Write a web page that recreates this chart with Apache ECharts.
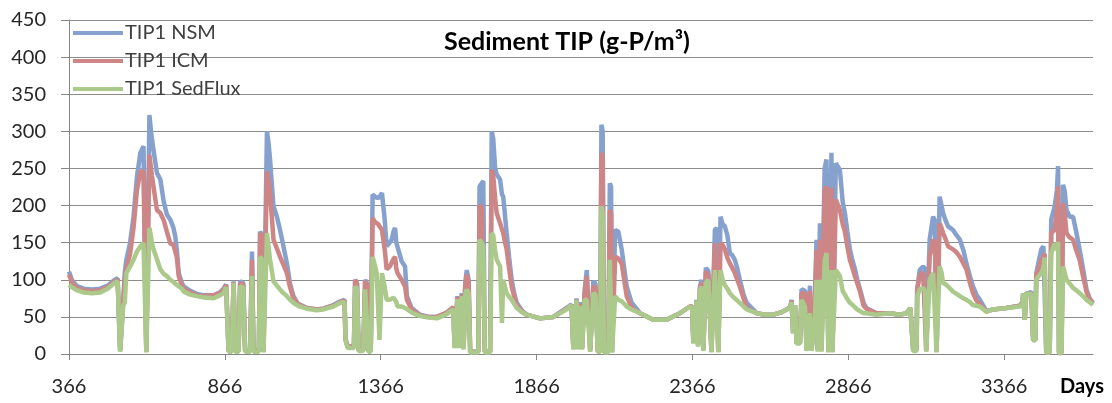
<!DOCTYPE html>
<html>
<head>
<meta charset="utf-8">
<script src="https://cdn.jsdelivr.net/npm/echarts@6/dist/echarts.min.js"></script>
<style>
html,body{margin:0;padding:0;background:#fff;}
#c{width:1112px;height:403px;}
</style>
</head>
<body>
<div id="c"></div>
<script>
// Day numbers of the sampled points
const DAYS = [
366,375,390,413,440,466,490,510,522,527,530,535,540,545,550,562,573,584,595,605,611,614,619,624,629,632,637,648,659,670,680,691,701,707,712,718,728,734,755,776,800,830,850,862,870,
878,888,894,899,910,915,925,931,947,953,958,975,979,985,990,996,1001,1006,1011,1022,1033,1043,1054,1065,1075,1086,1100,1129,1160,1182,1214,1236,1250,
1253,1260,1280,1284,1290,1295,1310,1316,1322,1327,1334,1340,1347,1353,1358,1362,1366,1370,1375,1379,1385,1395,1401,1407,1412,1416,1420,1433,1444,1450,1465,1492,1520,1546,1575,1599,
1603,1608,1612,1616,1622,1626,1632,1637,1642,1648,1653,1679,1683,1690,1695,1700,1717,1722,1727,1733,1738,1749,1755,1759,1765,1770,1778,1786,1795,1802,1820,1834,1877,1920,1962,1978,
1984,1990,1994,1999,2005,2012,2020,2027,2032,2038,2043,2048,2055,2062,2070,2074,2078,2082,2096,2101,2105,2108,2113,2118,2128,2139,2155,2171,2198,2240,2283,2326,2358,
2365,2369,2374,2379,2384,2390,2395,2401,2405,2409,2417,2422,2427,2433,2438,2444,2449,2452,2456,2463,2470,2478,2486,2494,2502,2510,2518,2530,2540,2572,2600,2625,2650,2668,2680,
2684,2689,2695,2700,2711,2716,2721,2727,2732,2737,2743,2748,2753,2758,2764,2768,2772,2775,2780,2785,2790,2796,2802,2807,2812,2815,2820,2826,2839,2848,2855,2863,2871,2880,2887,2895,2903,2915,2924,2956,2999,3031,3053,3065,
3069,3074,3085,3087,3095,3106,3112,3116,3122,3127,3138,3144,3149,3154,3159,3165,3170,3178,3186,3202,3213,3224,3235,3245,3256,3266,3277,3288,3309,3330,3373,3416,3425,3427,3432,3437,
3445,3453,3459,3466,3469,3477,3485,3492,3496,3501,3512,3517,3528,3535,3539,3542,3550,3555,3560,3566,3576,3587,3597,3608,3619,3630,3640,3651
];
const NSM = [
111,100,92,88,87,88,92,99,102,100,5,5,72,110,127,150,185,239,271,280,278,3,3,322,300,290,275,244,235,205,188,181,170,158,140,109,96,91,85,81,79,79,83,88,94,
4,4,98,4,4,98,96,4,4,138,5,5,165,160,3,3,300,285,262,199,185,167,145,122,95,78,68,62,60,61,66,71,73,
20,10,10,100,95,5,5,100,95,4,4,215,212,212,210,212,214,217,217,180,145,150,154,165,170,150,149,125,118,78,62,53,50,50,55,63,
10,10,78,10,10,82,8,95,113,100,3,3,226,230,233,3,3,300,290,250,242,235,215,212,185,163,130,100,80,69,58,53,48,50,62,67,
8,8,75,8,70,8,85,113,113,5,5,98,95,4,4,309,300,3,3,230,225,3,3,167,165,141,91,69,55,46,46,55,64,
64,15,15,73,12,90,100,6,6,116,112,112,3,3,167,170,3,3,185,175,172,160,136,133,127,115,100,80,69,55,53,53,56,60,63,
73,28,66,15,15,87,87,85,6,6,92,6,6,60,154,5,5,176,5,5,250,262,3,3,271,3,3,257,248,205,190,165,141,125,115,100,88,69,62,55,55,53,55,62,
64,6,6,87,113,118,115,5,5,154,185,180,3,3,212,200,190,180,172,167,160,154,140,122,105,91,80,73,58,60,62,65,70,82,46,82,
82,84,19,19,109,125,141,145,145,2,2,181,199,220,253,2,2,228,220,194,185,185,165,141,115,87,75,69
];
const ICM = [
107,97,89,86,85,86,90,97,100,98,5,5,70,100,115,135,170,221,246,246,245,3,3,268,250,240,226,194,190,180,165,149,147,145,130,105,92,88,83,79,78,79,82,87,93,
4,4,97,4,4,95,94,4,4,127,5,5,163,158,3,3,246,235,217,154,142,131,120,109,90,75,67,62,60,61,65,70,72,
20,10,10,100,95,5,5,98,93,4,4,183,178,176,175,172,170,167,167,140,114,118,123,128,131,115,109,100,91,73,60,52,50,50,55,63,
10,10,77,10,10,80,8,90,107,95,3,3,199,199,199,3,3,248,240,210,190,176,168,163,150,141,115,91,76,66,57,53,48,50,61,66,
8,8,73,8,68,8,80,105,105,5,5,91,90,4,4,271,265,3,3,194,190,3,3,131,129,122,78,62,55,46,46,55,64,
64,15,15,72,12,88,96,6,6,111,107,107,3,3,149,149,3,3,149,147,141,130,122,116,109,100,91,75,62,55,53,53,56,60,63,
72,28,66,15,15,82,82,82,6,6,85,6,6,60,140,5,5,154,5,5,220,226,3,3,224,3,3,208,194,175,165,145,127,115,105,95,85,65,61,55,55,53,55,62,
64,6,6,87,105,110,108,5,5,131,154,150,3,3,176,170,163,155,145,141,137,131,122,114,96,82,72,67,57,60,62,65,70,82,46,82,
80,82,19,19,107,115,128,130,135,2,2,163,167,195,226,2,2,203,190,163,157,154,140,127,105,84,73,68
];
const SEDFLUX = [
93,90,86,83,82,83,88,95,98,96,3,3,66,69,109,118,127,138,145,149,150,2,2,170,158,150,141,128,114,108,105,100,97,95,93,91,88,84,80,78,76,75,79,82,90,
3,3,96,3,3,91,90,3,3,105,3,3,131,128,2,2,163,145,127,98,92,87,82,78,73,69,65,61,59,60,64,69,70,
18,8,8,91,88,4,4,87,85,3,3,131,120,109,110,19,19,109,109,90,73,73,73,76,78,70,64,64,62,60,56,51,49,48,53,60,
8,8,74,8,8,78,6,80,87,82,2,2,154,150,145,2,2,163,160,140,127,118,42,100,90,82,77,73,67,62,56,53,48,50,60,66,
6,6,73,6,65,6,73,73,73,3,3,82,80,3,3,199,190,2,2,127,125,2,2,78,73,71,64,60,55,46,46,55,64,
62,14,14,72,10,85,91,4,4,96,100,100,2,2,113,113,2,2,113,100,93,88,82,78,75,72,69,64,60,55,53,53,56,60,62,
70,28,66,14,14,73,73,64,4,4,55,4,4,40,100,3,3,100,3,3,125,136,2,2,113,2,2,113,105,85,80,74,69,66,63,60,58,55,55,53,55,53,55,62,
64,4,4,78,87,89,85,3,3,100,109,110,2,2,118,110,96,94,91,84,81,78,75,73,70,66,65,64,57,60,62,64,68,82,46,82,
80,82,19,19,100,105,109,115,130,2,2,136,149,140,151,1,1,118,110,100,95,89,86,82,78,73,70,66
];
const X_TICKS = [366, 866, 1366, 1866, 2366, 2866, 3366];
const SERIES_NAMES = ['TIP1 NSM', 'TIP1 ICM', 'TIP1 SedFlux'];
const TITLE = 'Sediment TIP (g-P/m³)';

const FONT = 'Lato, "Open Sans", sans-serif';
const colors = ['#86a1cd', '#cd8585', '#abc98a'];
const vals = [NSM, ICM, SEDFLUX];

const chart = echarts.init(document.getElementById('c'), null, {renderer: 'canvas'});
chart.setOption({
  animation: false,
  backgroundColor: '#fff',
  textStyle: {fontFamily: FONT},
  title: {
    text: TITLE, left: 567, top: 29, textAlign: 'center', padding: 0,
    textStyle: {fontFamily: FONT, fontSize: 25, fontWeight: 'bold', color: '#000'}
  },
  legend: {
    orient: 'vertical', left: 73, top: 23, padding: 0,
    itemWidth: 50, itemHeight: 4, itemGap: 8, icon: 'rect',
    data: SERIES_NAMES,
    textStyle: {fontFamily: FONT, fontSize: 20, lineHeight: 20, color: '#404040', padding: [0,0,0,-3]}
  },
  grid: {left: 69, right: 19, top: 20, bottom: 49, containLabel: false},
  xAxis: {
    type: 'value', min: 366, max: 3651,
    name: 'Days', nameLocation: 'end', nameGap: -33,
    nameTextStyle: {fontFamily: FONT, fontSize: 20, fontWeight: 'bold', color: '#000', align: 'left', verticalAlign: 'top', padding: [23,0,0,0]},
    axisLine: {show: true, lineStyle: {color: '#868686', width: 1}},
    axisTick: {show: true, length: 6, customValues: X_TICKS, lineStyle: {color: '#868686'}},
    axisLabel: {customValues: X_TICKS, formatter: v => String(v), fontFamily: FONT, fontSize: 20, color: '#262626', margin: 23},
    splitLine: {show: false}
  },
  yAxis: {
    type: 'value', min: 0, max: 450, interval: 50,
    axisLine: {show: true, lineStyle: {color: '#868686', width: 1}},
    axisTick: {show: true, length: 8, lineStyle: {color: '#868686'}},
    axisLabel: {fontFamily: FONT, fontSize: 20, color: '#262626', margin: 23},
    splitLine: {show: true, lineStyle: {color: '#8c8c8c', width: 1}}
  },
  series: SERIES_NAMES.map((n, k) => ({
    name: n, type: 'line', showSymbol: false, symbol: 'none',
    color: colors[k],
    lineStyle: {width: 4.5, color: colors[k]},
    data: DAYS.map((d, i) => [d, vals[k][i]]),
    z: 2 + k
  }))
});
</script>
</body>
</html>
